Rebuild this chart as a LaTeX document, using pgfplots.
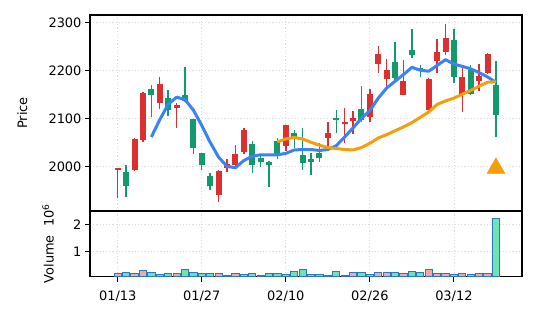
\documentclass[border=0pt]{standalone}
\usepackage{fontspec}
\setmainfont{DejaVu Sans}
\usepackage{pgfplots}
\pgfplotsset{compat=1.18}
\usepackage{pgfplotstable}

\definecolor{cup}{HTML}{129A6C}
\definecolor{cdn}{HTML}{DC2F2F}
\definecolor{vup}{HTML}{6FE3B6}
\definecolor{vdn}{HTML}{F6A7A7}
\definecolor{vedge}{HTML}{2A78C0}
\definecolor{maf}{HTML}{3B82F6}
\definecolor{mas}{HTML}{F59E0B}
\definecolor{gridc}{HTML}{DDDDDD}

% up (green) candles: index open high low close volume(1e6)
\pgfplotstableread{
x o h l c v
1 1960 2004 1938 1989 0.23
4 2150 2171 2103 2162 0.23
6 2119 2160 2105 2143 0.20
8 2137 2207 2135 2150 0.36
9 2039 2100 2026 2099 0.23
10 2004 2029 1994 2028 0.19
11 1959 1987 1951 1981 0.19
16 2004 2053 1987 2047 0.20
17 2010 2025 1999 2018 0.14
18 2004 2012 1957 2011 0.20
19 2025 2060 2016 2054 0.20
21 2060 2077 2039 2070 0.27
22 2008 2080 1993 2025 0.36
23 2011 2028 1983 2016 0.16
24 2018 2049 2011 2028 0.16
26 2098 2119 2070 2101 0.28
29 2098 2169 2094 2120 0.23
33 2185 2260 2181 2219 0.23
35 2232 2287 2226 2244 0.28
36 2202 2212 2186 2206 0.23
40 2186 2287 2174 2263 0.18
42 2151 2212 2150 2202 0.16
45 2107 2221 2063 2171 2.22
}\up

% down (red) candles
\pgfplotstableread{
x o h l c v
0 1997 1998 1935 1994 0.186
2 2057 2059 1991 1994 0.186
3 2153 2155 2052 2055 0.31
5 2172 2186 2120 2133 0.16
7 2129 2133 2081 2122 0.20
12 1992 1994 1926 1942 0.19
13 2006 2017 1989 1998 0.14
14 2026 2046 1997 2003 0.20
15 2077 2081 2026 2031 0.16
20 2086 2087 2032 2044 0.18
25 2071 2093 2044 2060 0.14
27 2093 2122 2049 2089 0.14
28 2101 2117 2068 2095 0.23
30 2151 2162 2093 2103 0.18
31 2235 2252 2195 2214 0.23
32 2202 2225 2165 2183 0.23
34 2179 2223 2150 2150 0.20
37 2183 2185 2113 2119 0.36
38 2239 2265 2195 2221 0.20
39 2268 2297 2232 2239 0.20
41 2186 2207 2115 2150 0.20
43 2188 2214 2158 2179 0.20
44 2235 2236 2194 2195 0.20
}\dn

% fast moving average (blue)
\pgfplotstableread{
x y
4 2062
5 2098
6 2130
7 2145
8 2140
9 2118
10 2086
11 2051
12 2020
13 2001
14 1998
15 2013
16 2022
17 2025
18 2025
19 2025
20 2028
21 2035
22 2036
23 2036
24 2034
25 2036
26 2044
27 2062
28 2081
29 2101
30 2117
31 2143
32 2164
33 2178
34 2192
35 2207
36 2201
37 2199
38 2211
39 2223
40 2214
41 2209
42 2204
43 2196
44 2187
45 2176
}\maf

% slow moving average (orange)
\pgfplotstableread{
x y
19 2052
20 2058
21 2061
22 2058
23 2051
24 2045
25 2040
26 2038
27 2036
28 2035
29 2040
30 2049
31 2060
32 2067
33 2075
34 2083
35 2092
36 2103
37 2114
38 2130
39 2137
40 2143
41 2151
42 2159
43 2168
44 2176
45 2177
}\mas

\pgfplotsset{
  basestyle/.style={
    scale only axis, width=432bp,
    xmin=-3.3, xmax=48.1,
    axis line style={line width=1.3bp, black},
    tick style={line width=1bp, black},
    major tick length=5bp, tick align=outside,
    ytick pos=left, xtick pos=bottom,
    grid=major,
    major grid style={gridc, line width=0.8bp, dash pattern=on 1.2bp off 2bp},
    font=\fontsize{13}{15.6}\selectfont,
    /pgf/number format/assume math mode=true,
    /pgf/number format/1000 sep={},
    xtick={0,10,20,30,40},
  },
}

\begin{document}
\begin{tikzpicture}
\useasboundingbox (0,0) rectangle (537bp,322bp);

% ---- price panel ----
\begin{axis}[basestyle,
  at={(90bp,111bp)}, anchor=south west, height=196bp,
  ymin=1908, ymax=2316,
  ytick={2000,2100,2200,2300},
  xticklabels={}, x tick style={draw=none},
  ylabel={Price},
  ylabel style={at={(rel axis cs:-0.157,0.5)}, anchor=center, rotate=0},
]
% wicks
\addplot[draw=none, mark=none, forget plot,
  error bars/.cd, y dir=plus, y explicit, error mark=none,
  error bar style={draw=cup, line width=1.4bp}]
  table[x=x, y=l, y error plus expr=\thisrow{h}-\thisrow{l}] {\up};
\addplot[draw=none, mark=none, forget plot,
  error bars/.cd, y dir=plus, y explicit, error mark=none,
  error bar style={draw=cdn, line width=1.4bp}]
  table[x=x, y=l, y error plus expr=\thisrow{h}-\thisrow{l}] {\dn};
% bodies
\addplot[draw=none, mark=none, forget plot,
  error bars/.cd, y dir=plus, y explicit, error mark=none,
  error bar style={draw=cup, line width=6bp}]
  table[x=x, y=o, y error plus expr=\thisrow{c}-\thisrow{o}] {\up};
\addplot[draw=none, mark=none, forget plot,
  error bars/.cd, y dir=plus, y explicit, error mark=none,
  error bar style={draw=cdn, line width=6bp}]
  table[x=x, y=c, y error plus expr=\thisrow{o}-\thisrow{c}] {\dn};
% moving averages
\addplot[maf, line width=3bp, line join=round, mark=none] table[x=x, y=y] {\maf};
\addplot[mas, line width=3bp, line join=round, mark=none] table[x=x, y=y] {\mas};
% signal marker
\addplot[only marks, mark=triangle*, mark size=10.4bp, color=mas, fill=mas] coordinates {(45,1997)};
\end{axis}

% ---- volume panel ----
\begin{axis}[basestyle,
  at={(90bp,45.5bp)}, anchor=south west, height=65.5bp,
  ymin=0.09, ymax=2.49,
  ytick={1,2},
  xticklabels={01/13,01/27,02/10,02/26,03/12},
  xticklabel style={yshift=-6bp},
  ylabel={Volume\ \ 10\textsuperscript{6}},
  ylabel style={at={(rel axis cs:-0.097,0.5)}, anchor=center, rotate=0},
  ybar, bar width=0.86, bar shift=0pt,
]
\addplot[draw=vedge, fill=vup, line width=0.9bp] table[x=x, y=v] {\up};
\addplot[draw=vedge, fill=vdn, line width=0.9bp] table[x=x, y=v] {\dn};
\end{axis}
\end{tikzpicture}
\end{document}
